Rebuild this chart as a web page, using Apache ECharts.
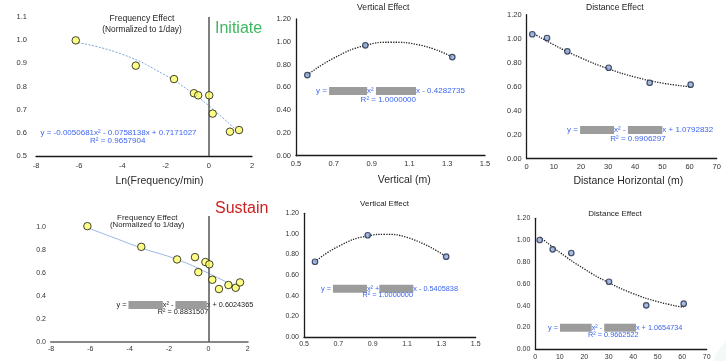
<!DOCTYPE html>
<html>
<head>
<meta charset="utf-8">
<script src="https://cdn.jsdelivr.net/npm/echarts@6/dist/echarts.min.js"></script>
<style>
html,body{margin:0;padding:0;background:#fff;}
#c{width:726px;height:361px;}
</style>
</head>
<body>
<div id="c"></div>
<script>
// ---- Data ----
// Initiate: frequency
const iFreqX = [-6.16, -3.38, -1.61, -0.69, -0.49, 0.02, 0.18, 0.98, 1.40];
const iFreqY = [0.999, 0.890, 0.832, 0.771, 0.762, 0.762, 0.683, 0.605, 0.612];
const iFreqTrendX = [-6.2, -4, -2, -1, 0, 1.4];
const iFreqTrendY = [0.992, 0.939, 0.848, 0.788, 0.717, 0.601];
// Initiate: vertical
const iVertX = [0.56, 0.867, 1.327];
const iVertY = [0.708, 0.969, 0.866];
const iVertTrendX = [0.56, 0.7, 0.87, 1.0, 1.15, 1.327];
const iVertTrendY = [0.708, 0.857, 0.969, 0.996, 0.973, 0.866];
// Initiate: distance
const iDistX = [2.07, 7.48, 14.97, 30.2, 45.3, 60.4];
const iDistY = [1.037, 1.006, 0.895, 0.758, 0.633, 0.617];
const iDistTrendX = [2, 10, 20, 30, 40, 50, 60.4];
const iDistTrendY = [1.05, 0.949, 0.84, 0.75, 0.68, 0.63, 0.599];
// Sustain: frequency
const sFreqX = [-6.15, -3.41, -1.59, -0.68, -0.51, -0.15, 0.05, 0.2, 0.54, 1.02, 1.39, 1.61];
const sFreqY = [1.011, 0.83, 0.72, 0.74, 0.609, 0.697, 0.677, 0.542, 0.461, 0.496, 0.472, 0.519];
const sFreqTrendX = [-6.2, -4.8, -3.4, -1.6, 0, 1.6];
const sFreqTrendY = [1.0, 0.91, 0.82, 0.72, 0.60, 0.46];
// Sustain: vertical
const sVertX = [0.564, 0.871, 1.328];
const sVertY = [0.730, 0.987, 0.779];
const sVertTrendX = [0.564, 0.7, 0.871, 0.97, 1.1, 1.328];
const sVertTrendY = [0.730, 0.879, 0.981, 0.996, 0.966, 0.779];
// Sustain: distance
const sDistX = [1.8, 7.1, 14.7, 30.1, 45.3, 60.6];
const sDistY = [1.001, 0.916, 0.882, 0.619, 0.403, 0.418];
const sDistTrendX = [2, 10, 20, 30, 40, 50, 60.6];
const sDistTrendY = [1.028, 0.888, 0.736, 0.61, 0.51, 0.436, 0.385];

// text
const freqTitle1 = 'Frequency Effect';
const freqTitle2 = '(Normalized to 1/day)';
const vertTitle = 'Vertical Effect';
const distTitle = 'Distance Effect';

const FONT = 'Liberation Sans, Arial, sans-serif';
const BLUE_TXT = '#3d66ee';
const GRAY_BOX = '#9c9c9c';

function pairs(xs, ys) { return xs.map((x, i) => [x, ys[i]]); }

const grids = [
  {left: 36, top: 17, width: 216, height: 139},
  {left: 296, top: 19, width: 189, height: 136.7},
  {left: 526.7, top: 14.7, width: 190, height: 144},
  {left: 51, top: 216, width: 196.7, height: 125.7},
  {left: 304, top: 213.3, width: 171.7, height: 123.7},
  {left: 535.3, top: 218.3, width: 171.4, height: 131}
];

function xAx(gi, min, max, interval, dec, fs, margin, lineColor, lineWidth) {
  return {
    type: 'value', gridIndex: gi, min: min, max: max, interval: interval,
    axisLine: {show: true, onZero: false, lineStyle: {color: lineColor || '#1a1a1a', width: lineWidth || 1.3}},
    axisTick: {show: false}, splitLine: {show: false},
    axisLabel: {fontSize: fs, color: '#333', fontFamily: FONT, margin: margin,
      formatter: v => Number(v).toFixed(dec)}
  };
}
function yAx(gi, min, max, interval, dec, fs, margin, showLine, hideMax) {
  return {
    type: 'value', gridIndex: gi, min: min, max: max, interval: interval,
    axisLine: {show: showLine, onZero: false, lineStyle: {color: '#1a1a1a', width: 1.3}},
    axisTick: {show: false}, splitLine: {show: false},
    axisLabel: {fontSize: fs, color: '#333', fontFamily: FONT, margin: margin,
      showMaxLabel: !hideMax,
      formatter: v => Number(v).toFixed(dec)}
  };
}

const yellowDot = {color: '#ffff66', borderColor: '#111', borderWidth: 1};
const blueDot = {color: '#8faadc', borderColor: '#1f2a44', borderWidth: 1.2};

function scatter(gi, xs, ys, style, size, zeroLine) {
  const s = {
    type: 'scatter', xAxisIndex: gi, yAxisIndex: gi, data: pairs(xs, ys),
    symbolSize: size, itemStyle: style, z: 5, silent: true
  };
  if (zeroLine) {
    s.markLine = {
      silent: true, symbol: ['none', 'none'], label: {show: false},
      lineStyle: {color: '#555', width: 1.5, type: 'solid'},
      data: [{xAxis: 0}]
    };
  }
  return s;
}
function trend(gi, xs, ys, color, type, width) {
  return {
    type: 'line', xAxisIndex: gi, yAxisIndex: gi, data: pairs(xs, ys),
    smooth: true, showSymbol: false, silent: true, z: 3,
    lineStyle: {color: color, type: type, width: width}
  };
}

function txt(x, y, text, fs, color, align) {
  return {type: 'text', x: x, y: y, silent: true,
    style: {text: text, fontSize: fs, fill: color, fontFamily: FONT,
      align: align || 'center', verticalAlign: 'middle'}};
}
function eq(x, y, pre, w1, mid, w2, post, fs, color) {
  return {type: 'text', x: x, y: y, silent: true,
    style: {
      text: '{t|' + pre + '}{b|}{t|' + mid + '}{c|}{t|' + post + '}',
      fontFamily: FONT, align: 'left', verticalAlign: 'middle',
      rich: {
        t: {fontSize: fs, fill: color, fontFamily: FONT},
        b: {width: w1, height: 8, backgroundColor: GRAY_BOX},
        c: {width: w2, height: 8, backgroundColor: GRAY_BOX}
      }
    }};
}

const option = {
  animation: false,
  backgroundColor: '#ffffff',
  grid: grids.map(g => Object.assign({containLabel: false}, g)),
  xAxis: [
    xAx(0, -8, 2, 2, 0, 7.5, 6),
    xAx(1, 0.5, 1.5, 0.2, 1, 7.5, 4),
    xAx(2, 0, 70, 10, 0, 7.5, 4),
    xAx(3, -8, 2, 2, 0, 7, 4, '#888', 2.2),
    xAx(4, 0.5, 1.5, 0.2, 1, 7, 4),
    xAx(5, 0, 70, 10, 0, 7, 4)
  ],
  yAxis: [
    yAx(0, 0.5, 1.1, 0.1, 1, 7.5, 9, false),
    yAx(1, 0, 1.2, 0.2, 2, 7.5, 5, true),
    yAx(2, 0, 1.2, 0.2, 2, 7.5, 5, true),
    yAx(3, 0, 1.1, 0.2, 1, 7, 5, false, true),
    yAx(4, 0, 1.2, 0.2, 2, 7, 5, true),
    yAx(5, 0, 1.2, 0.2, 2, 7, 5, true)
  ],
  series: [
    trend(0, iFreqTrendX, iFreqTrendY, '#7fa5dd', [2, 1.5], 1),
    scatter(0, iFreqX, iFreqY, yellowDot, 7.5, true),
    trend(1, iVertTrendX, iVertTrendY, '#222', 'dotted', 1.3),
    scatter(1, iVertX, iVertY, blueDot, 5.5),
    trend(2, iDistTrendX, iDistTrendY, '#222', 'dotted', 1.3),
    scatter(2, iDistX, iDistY, blueDot, 5.5),
    trend(3, sFreqTrendX, sFreqTrendY, '#9ab9e6', 'solid', 1),
    scatter(3, sFreqX, sFreqY, yellowDot, 7.5, true),
    trend(4, sVertTrendX, sVertTrendY, '#222', 'dotted', 1.3),
    scatter(4, sVertX, sVertY, blueDot, 5.5),
    trend(5, sDistTrendX, sDistTrendY, '#222', 'dotted', 1.3),
    scatter(5, sDistX, sDistY, blueDot, 5.5)
  ],
  graphic: [
    {type: 'circle', silent: true, z: -10, shape: {cx: 752, cy: 372, r: 40}, style: {fill: '#f3f9f4'}},
    // titles
    txt(142, 19, freqTitle1, 8.6, '#222'),
    txt(142, 29.3, freqTitle2, 8.3, '#222'),
    txt(383.3, 7.7, vertTitle, 8.6, '#222'),
    txt(614.8, 7.7, distTitle, 8.6, '#222'),
    txt(147.2, 217.3, freqTitle1, 8, '#222'),
    txt(147.2, 225.3, freqTitle2, 7.8, '#222'),
    txt(384.5, 203.3, vertTitle, 8, '#222'),
    txt(615, 213.3, distTitle, 8, '#222'),
    // section labels
    txt(215, 29, 'Initiate', 16, '#3fb660', 'left'),
    txt(215, 208.5, 'Sustain', 16, '#cc1f1f', 'left'),
    // axis names
    txt(159.5, 181, 'Ln(Frequency/min)', 10.5, '#2a2a2a'),
    txt(404.3, 180, 'Vertical (m)', 10.5, '#2a2a2a'),
    txt(628.3, 181, 'Distance Horizontal (m)', 10.5, '#2a2a2a'),
    // equations
    txt(118.5, 133, 'y = -0.0050681x² - 0.0758138x + 0.7171027', 8, BLUE_TXT),
    txt(117.7, 141, 'R² = 0.9657904', 8, BLUE_TXT),
    eq(316, 91, 'y = ', 38, 'x² ', 40, 'x - 0.4282735', 8, BLUE_TXT),
    txt(388.3, 100, 'R² = 1.0000000', 8, BLUE_TXT),
    eq(567, 130, 'y = ', 34, 'x² - ', 34.4, 'x + 1.0792832', 8, BLUE_TXT),
    txt(638, 139, 'R² = 0.9906297', 8, BLUE_TXT),
    eq(116.5, 305, 'y = ', 34.4, 'x² - ', 31.4, 'x + 0.6024365', 7.3, '#222'),
    txt(183, 311.7, 'R² = 0.8831507', 7.3, '#222'),
    eq(321, 288.7, 'y = ', 34, 'x² +', 34, 'x - 0.5405838', 7.3, BLUE_TXT),
    txt(387.7, 295.3, 'R² = 1.0000000', 7.3, BLUE_TXT),
    eq(548, 327.7, 'y = ', 31.7, 'x² - ', 31.7, 'x + 1.0654734', 7.3, BLUE_TXT),
    txt(613.3, 335, 'R² = 0.9662522', 7.3, BLUE_TXT)
  ]
};

const chart = echarts.init(document.getElementById('c'), null, {renderer: 'canvas'});
chart.setOption(option);
</script>
</body>
</html>
